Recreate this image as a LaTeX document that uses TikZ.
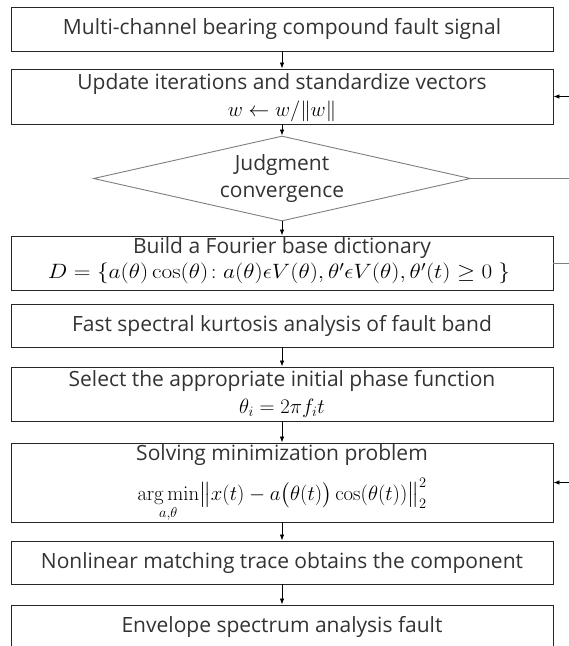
\documentclass[tikz,border=0pt]{standalone}
\usepackage{amsmath,amssymb}
\usepackage[no-math]{fontspec}
\setmainfont{Open Sans}
\usetikzlibrary{arrows.meta,shapes.geometric}
\definecolor{textc}{HTML}{333333}
\definecolor{boxc}{HTML}{262626}
\definecolor{grayline}{HTML}{7F7F7F}
\tikzset{
  box/.style={draw=boxc, line width=0.9pt, rectangle, minimum width=542pt, inner sep=0pt},
  lbl/.style={text=textc, inner sep=0pt, font=\fontsize{21}{25}\selectfont},
  mth/.style={text=black, inner sep=0pt, font=\fontsize{21}{25}\selectfont},
  arr/.style={draw=black, line width=0.8pt, -{Latex[length=6pt,width=4.5pt]}},
  gline/.style={draw=grayline, line width=0.9pt},
}
\begin{document}
\begin{tikzpicture}[x=1pt,y=-1pt]
\useasboundingbox (0,0) rectangle (569,646);
\clip (0,0) rectangle (569,646);
\fill[white] (0,0) rectangle (569,646);

% boxes
\node[box, minimum height=44pt] (b1) at (282,29) {};
\node[box, minimum height=55pt] (b2) at (282,96.5) {};
\node[draw=grayline, line width=0.9pt, diamond, minimum width=377pt, minimum height=85pt, inner sep=0pt] (dia) at (282,178.5) {};
\node[box, minimum height=54pt] (b3) at (282,263) {};
\node[box, minimum height=43pt] (b4) at (282,325.5) {};
\node[box, minimum height=54pt] (b5) at (282,394) {};
\node[box, minimum height=79pt] (b6) at (282,482.5) {};
\node[box, minimum height=43pt] (b7) at (282,562.5) {};
\node[box, minimum height=80pt] (b8) at (282,645) {};

% texts
\node[lbl] (t1) at (282,29) {Multi-channel bearing compound fault signal};
\node[lbl] (t2) at (282,84) {Update iterations and standardize vectors};
\node[mth] (m2) at (282,111) {$w \leftarrow w/\|w\|$};
\node[lbl, align=center] (td) at (282,179) {Judgment\\[2pt]convergence};
\node[lbl] (t3) at (282,248) {Build a Fourier base dictionary};
\node[mth] (m3) at (279,273.5) {\scalebox{1.12}[1]{$D=\{a(\theta)\cos(\theta)\!: a(\theta)\epsilon V(\theta), \theta'\epsilon V(\theta), \theta'(t)\geq 0\ \}$}};
\node[lbl] (t4) at (282,326) {Fast spectral kurtosis analysis of fault band};
\node[lbl] (t5) at (282,381) {Select the appropriate initial phase function};
\node[mth] (m5) at (282,408) {$\theta_i = 2\pi f_i t$};
\node[lbl] (t6) at (282,455) {Solving minimization problem};
\node[mth, anchor=base] (m6) at (282,500) {$\displaystyle \mathop{\arg\min}_{a,\theta}\bigl\|x(t)-a\bigl(\theta(t)\bigr)\cos(\theta(t))\bigr\|_2^2$};
\node[lbl] (t7) at (282,563) {Nonlinear matching trace obtains the component};
\node[lbl] (t8) at (282,627) {Envelope spectrum analysis fault};

% vertical arrows
\draw[arr] (b1.south) -- (b2.north);
\draw[arr] (b2.south) -- (dia.north);
\draw[arr] (dia.south) -- (b3.north);
\draw[arr] (b4.south) -- (b5.north);
\draw[arr] (b5.south) -- (b6.north);
\draw[arr] (b6.south) -- (b7.north);
\draw[arr] (b7.south) -- (b8.north);

% right side connectors
\coordinate (r2) at (569,96.5);
\coordinate (rd) at (569,178.5);
\coordinate (r3) at (569,263);
\coordinate (r6) at (569,482.5);
\draw[arr] (r2) -- (b2.east);
\draw[gline] (dia.east) -- (rd);
\draw[gline] (b3.east) -- (r3);
\draw[arr] (r6) -- (b6.east);
\end{tikzpicture}
\end{document}
